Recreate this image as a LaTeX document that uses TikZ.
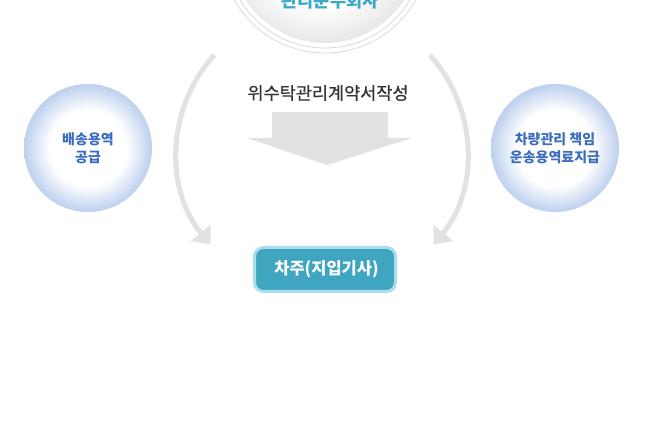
\documentclass[tikz,border=0pt]{standalone}
\usepackage{fontspec}
\setmainfont{Noto Sans CJK KR}
\newfontfamily\medfont[FakeBold=0.6]{Noto Sans CJK KR}
\usetikzlibrary{arrows.meta}
\definecolor{ringgray}{HTML}{DADADA}
\definecolor{arcgray}{HTML}{E2E2E2}
\definecolor{diskgray}{HTML}{E4E4E4}
\definecolor{teal1}{HTML}{3AA9C8}
\definecolor{bubbleblue}{HTML}{BDD0EE}
\definecolor{bubbletext}{HTML}{3B6CC0}
\definecolor{btnfill}{HTML}{3FA5C1}
\definecolor{btnborder}{HTML}{A9DEEC}
\definecolor{darktext}{HTML}{333333}
\pgfdeclareradialshading{bubble}{\pgfpoint{0bp}{0bp}}{color(0bp)=(white); color(15bp)=(white); color(25bp)=(bubbleblue); color(50bp)=(bubbleblue)}
\pgfdeclareradialshading{topdisk}{\pgfpoint{-2bp}{3bp}}{color(0bp)=(white); color(17bp)=(white); color(28bp)=(diskgray); color(50bp)=(diskgray)}
\tikzset{
  bubblenode/.style={circle, shading=bubble, minimum size=128pt, inner sep=0pt, align=center,
    text=bubbletext, font=\fontsize{14pt}{18pt}\selectfont\bfseries},
  ringnode/.style={circle, draw=ringgray, line width=0.8pt, fill=white, inner sep=0pt},
  flowarc/.style={draw=arcgray, line width=5pt, -{Triangle[width=25pt,length=15pt]}},
  blockarrow/.style={fill=arcgray},
  btn/.style={draw=btnborder, line width=3pt, fill=btnfill, rounded corners=9pt,
    minimum width=141pt, minimum height=44pt, inner sep=0pt, text=white,
    font=\fontsize{16.5pt}{18pt}\selectfont\bfseries},
}
\begin{document}
\begin{tikzpicture}[x=1pt,y=1pt]
\useasboundingbox[fill=white] (0,0) rectangle (651,-430);
% top circle
\node[ringnode, minimum size=208pt] (topouter) at (325,51) {};
\node[ringnode, minimum size=198pt] (topinner) at (325,51) {};
\node[circle, shading=topdisk, minimum size=188pt, inner sep=0pt] (top) at (325,51) {};
\node[text=teal1, font=\fontsize{17.5pt}{18pt}\selectfont\bfseries] (toplabel) at (330,-1) {관리운수회사};
% arcs
\coordinate (arccenter) at (322,-152);
\draw[flowarc] (arccenter) ++(138:145) arc[start angle=138, end angle=219.6, radius=145];
\draw[flowarc] (arccenter) ++(42:145) arc[start angle=42, end angle=-39.6, radius=145];
% side bubbles
\node[bubblenode] (left) at (88,-148) {배송용역\\공급};
\node[bubblenode] (right) at (555,-148) {차량관리 책임\\운송용역료지급};
% middle text and block arrow
\node[text=darktext, font=\fontsize{17.5pt}{18pt}\medfont] (contract) at (328,-93) {위수탁관리계약서작성};
\fill[blockarrow] (272,-112) -- (388,-112) -- (388,-138) -- (412,-138) -- (327,-165) -- (247,-138) -- (272,-138) -- cycle;
% button
\node[btn] (driver) at (325,-269.5) {\hspace{3pt}차주(지입기사)};
\end{tikzpicture}
\end{document}
